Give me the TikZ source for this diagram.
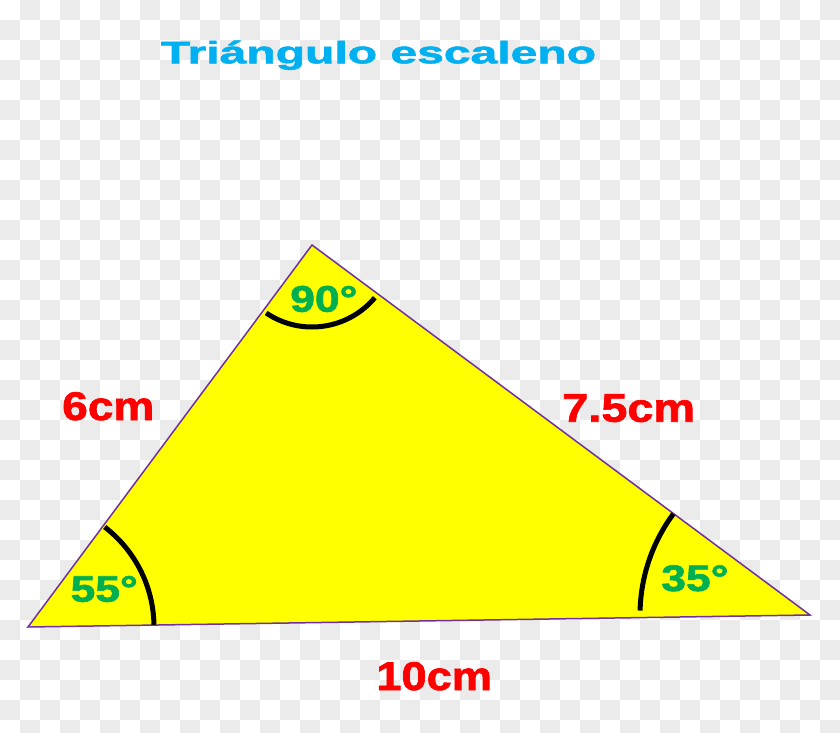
\documentclass[tikz,border=0pt]{standalone}
\usepackage{fontspec}
\setmainfont{Liberation Sans}
\newfontfamily\heavyfont[FakeBold=1.6]{Liberation Sans Bold}
\usepackage{graphicx}
\definecolor{triyellow}{HTML}{FFFF00}
\definecolor{edgepurple}{HTML}{7030A0}
\definecolor{anggreen}{HTML}{00B050}
\definecolor{lenred}{HTML}{FF0000}
\definecolor{titleblue}{HTML}{00B0F0}
\definecolor{checkgrey}{HTML}{EBEBEB}
\begin{document}
\begin{tikzpicture}[x=1pt,y=1pt,
  titletext/.style={text=titleblue,font=\heavyfont\fontsize{31}{34}\selectfont,anchor=base,inner sep=0pt},
  lentext/.style={text=lenred,font=\heavyfont\fontsize{40}{44}\selectfont,anchor=base,inner sep=0pt},
  angtext/.style={text=anggreen,font=\heavyfont\fontsize{37}{40}\selectfont,anchor=base,inner sep=0pt},
  anglearc/.style={draw=black,line width=5pt},
  triedge/.style={draw=edgepurple,line width=1.5pt,fill=triyellow,line join=miter}]
\useasboundingbox (0,0) rectangle (840,732);
% checkerboard background
\fill[white] (0,0) rectangle (840,732);
\begin{scope}
\clip (0,0) rectangle (840,732);
\foreach \i in {0,...,41}{
  \foreach \j in {0,...,36}{
    \pgfmathtruncatemacro\k{mod(\i+\j,2)}
    \ifnum\k=1
      \fill[checkgrey] ({20*\i},{732-20*\j-20}) rectangle ({20*\i+20},{732-20*\j});
    \fi
  }
}
\end{scope}
% triangle
\coordinate (A) at (312,487);
\coordinate (B) at (28,105);
\coordinate (C) at (810,117);
\path[triedge] (A) -- (B) -- (C) -- cycle;
% angle arcs
\draw[anglearc] (A) ++(236:82) arc[start angle=236,end angle=320,radius=82];
\draw[anglearc] (B) ++(1:126) arc[start angle=1,end angle=52.5,radius=126];
\draw[anglearc] (C) ++(143.5:170) arc[start angle=143.5,end angle=178.5,radius=170];
% texts
\node[titletext] (title) at (378.5,668.7) {\scalebox{1.55}[1]{Triángulo escaleno}};
\node[lentext] (l6) at (108.3,312) {\scalebox{1.15}[1]{6cm}};
\node[lentext] (l75) at (628.7,310.3) {\scalebox{1.17}[1]{7.5cm}};
\node[lentext] (l10) at (434.2,42) {\scalebox{1.13}[1]{10cm}};
\node[angtext] (a90) at (323.8,420.3) {\scalebox{1.2}[1]{90°}};
\node[angtext] (a55) at (104.2,130.3) {\scalebox{1.2}[1]{55°}};
\node[angtext] (a35) at (694.9,141) {\scalebox{1.2}[1]{35°}};
\end{tikzpicture}
\end{document}
